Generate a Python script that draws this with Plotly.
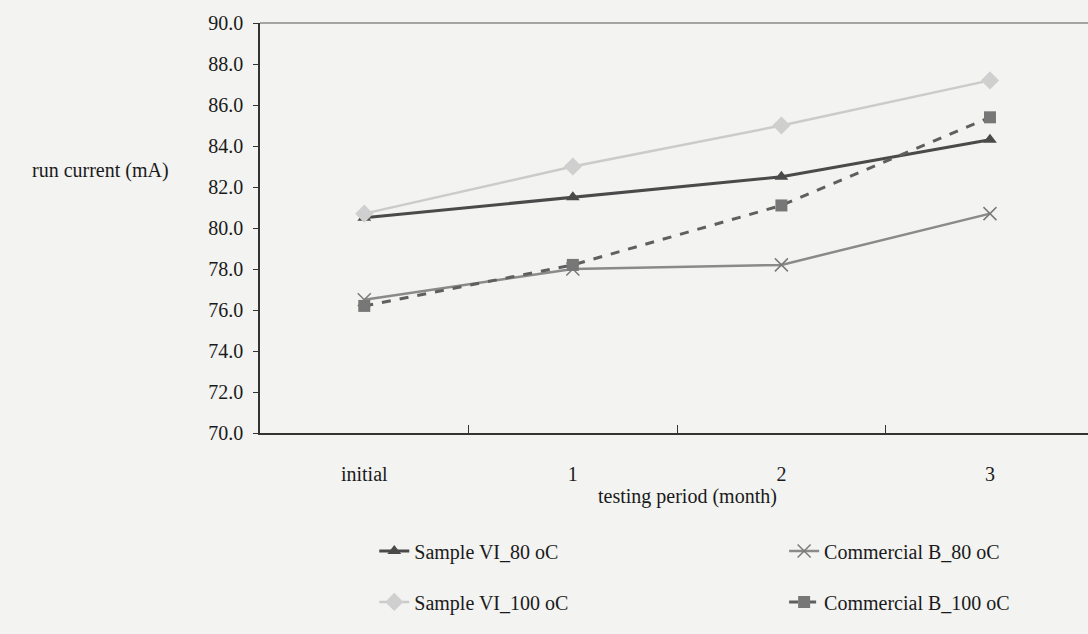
import plotly.graph_objects as go

categories = ["initial", "1", "2", "3"]
sample_vi_80 = [80.5, 81.5, 82.5, 84.3]
sample_vi_100 = [80.7, 83.0, 85.0, 87.2]
commercial_b_80 = [76.5, 78.0, 78.2, 80.7]
commercial_b_100 = [76.2, 78.2, 81.1, 85.4]

FONT = "Liberation Serif"
BG = "#f3f3f1"
FS = 20

fig = go.Figure()
fig.add_trace(go.Scatter(x=categories, y=sample_vi_80, name="Sample VI_80 oC", mode="lines+markers",
                         line=dict(color="#4a4a4a", width=3),
                         marker=dict(symbol="triangle-up", size=12, color="#4a4a4a"),
                         legend="legend", showlegend=True))
fig.add_trace(go.Scatter(x=categories, y=commercial_b_80, name="Commercial B_80 oC", mode="lines+markers",
                         line=dict(color="#8a8a8a", width=2.5),
                         marker=dict(symbol="x-thin", size=13, line=dict(color="#7a7a7a", width=1.5)),
                         legend="legend2", showlegend=True))
fig.add_trace(go.Scatter(x=categories, y=sample_vi_100, name="Sample VI_100 oC", mode="lines+markers",
                         line=dict(color="#cbcbcb", width=2.5),
                         marker=dict(symbol="diamond", size=14, color="#cfcfcf"),
                         legend="legend3", showlegend=True))
fig.add_trace(go.Scatter(x=categories, y=commercial_b_100, name="Commercial B_100 oC", mode="lines+markers",
                         line=dict(color="#5f5f5f", width=3, dash="dash"),
                         marker=dict(symbol="square", size=12, color="#777777"),
                         legend="legend4", showlegend=True))

legend_common = dict(orientation="h", xanchor="left", yanchor="middle",
                     font=dict(family=FONT, size=FS, color="#1a1a1a"),
                     bgcolor="rgba(0,0,0,0)")

fig.update_layout(
    width=1088, height=634,
    showlegend=True,
    margin=dict(l=260, r=0, t=23, b=201),
    paper_bgcolor=BG, plot_bgcolor=BG,
    font=dict(family=FONT, size=FS, color="#1a1a1a"),
    legend=dict(x=0.138, y=-0.288, **legend_common),
    legend2=dict(x=0.633, y=-0.288, **legend_common),
    legend3=dict(x=0.138, y=-0.412, **legend_common),
    legend4=dict(x=0.633, y=-0.412, **legend_common),
    xaxis=dict(type="category", range=[-0.5, 3.47], showgrid=False, zeroline=False,
               showline=True, linecolor="#333333", linewidth=1.5,
               ticks="inside", tickson="boundaries", ticklen=8, tickcolor="#333333",
               ticklabelstandoff=22, tickfont=dict(family=FONT, size=FS)),
    yaxis=dict(range=[70, 90], dtick=2, tickformat=".1f", showgrid=False, zeroline=False,
               showline=True, linecolor="#333333", linewidth=1.5,
               ticks="outside", ticklen=5, tickcolor="#333333",
               ticklabelstandoff=6, tickfont=dict(family=FONT, size=FS)),
    shapes=[dict(type="line", xref="paper", yref="paper", x0=0, x1=1, y0=1, y1=1,
                 line=dict(color="#555555", width=1))],
    annotations=[
        dict(text="run current (mA)", xref="paper", yref="paper", x=-0.193, y=0.641,
             xanchor="center", yanchor="middle",
             showarrow=False, font=dict(family=FONT, size=FS)),
        dict(text="testing period (month)", xref="paper", yref="paper", x=0.516, y=-0.156,
             xanchor="center", yanchor="middle",
             showarrow=False, font=dict(family=FONT, size=FS)),
    ],
)

fig.write_html("out.html", config={"displayModeBar": False},
               post_script="document.body.style.margin='0';")
